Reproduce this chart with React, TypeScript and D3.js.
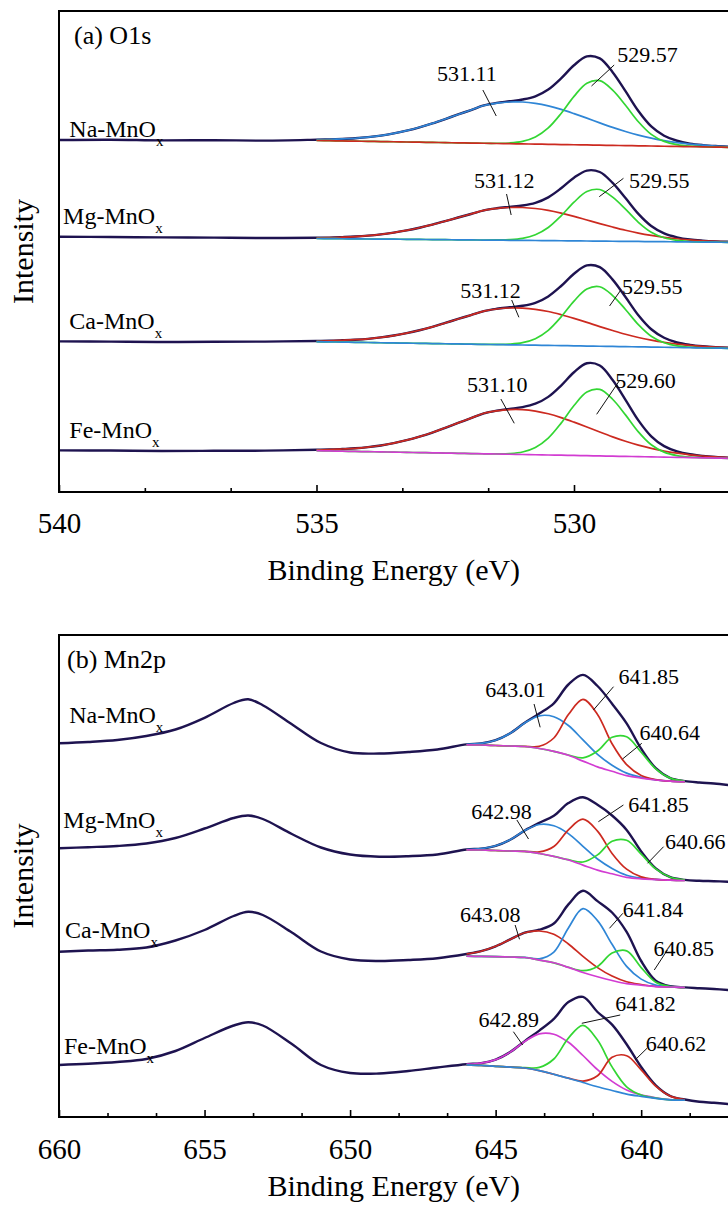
import React, { useEffect, useRef } from "react";
import * as d3 from "d3";

const FONT = "'Liberation Serif', 'Times New Roman', serif";
const RAW = "#1e1350";
const BLUE = "#2f86d6";
const RED = "#cc2a20";
const GREEN = "#33d633";
const MAGENTA = "#d23cd2";

const sampleNames = ["Na-MnO", "Mg-MnO", "Ca-MnO", "Fe-MnO"];

// ---------- (a) O1s ----------
const o1sTicks = [540, 535, 530];
const o1sLeftBE = [540, 539, 538, 537, 536];
const o1sFitBE = [535, 534.75, 534.5, 534.25, 534, 533.75, 533.5, 533.25, 533, 532.75, 532.5, 532.25, 532, 531.75, 531.5, 531.25, 531, 530.75, 530.5, 530.25, 530, 529.75, 529.5, 529.25, 529, 528.75, 528.5, 528.25, 528, 527.75, 527.5, 527.25, 527];
const o1sBaseBE = [535, 527];

const naO1sLeft = [352, 352.3, 351.6, 351.8, 351.4];
const naO1sBase = [351.5, 344.7];
const naO1sBroad = [0.8, 1.3, 2.0, 2.9, 4.2, 6.0, 8.4, 11.4, 14.9, 19.0, 23.6, 28.4, 33.0, 37.8, 40.4, 41.7, 41.9, 40.7, 38.4, 35.1, 31.1, 26.8, 22.3, 18.0, 14.1, 10.7, 7.9, 5.6, 3.9, 2.6, 1.7, 1.1, 0.7];
const naO1sLattice = [0, 0, 0, 0, 0, 0, 0, 0, 0, 0, 0, 0, 0, 0, 0.2, 0.7, 2.5, 7.1, 16.4, 31.1, 48.4, 61.8, 64.5, 55.2, 40.3, 24.1, 11.7, 4.9, 1.8, 0.5, 0.1, 0, 0];

const mgO1sLeft = [255.2, 255.0, 254.6, 254.4, 254.0];
const mgO1sBase = [253.5, 249.7];
const mgO1sBroad = [0.7, 1.0, 1.6, 2.3, 3.3, 4.7, 6.6, 8.9, 11.7, 14.9, 18.5, 22.3, 25.9, 29.7, 31.7, 32.8, 32.9, 32.0, 30.2, 27.6, 24.5, 21.0, 17.5, 14.2, 11.1, 8.4, 6.2, 4.4, 3.1, 2.0, 1.3, 0.8, 0.5];
const mgO1sLattice = [0, 0, 0, 0, 0, 0, 0, 0, 0, 0, 0, 0, 0, 0, 0.2, 0.6, 2.0, 5.7, 13.1, 24.9, 38.7, 49.4, 51.6, 44.1, 32.2, 19.2, 9.4, 3.9, 1.4, 0.4, 0.1, 0, 0];

const caO1sLeft = [150.6, 150.4, 150.0, 150.2, 150.4];
const caO1sBase = [150.3, 143.7];
const caO1sBroad = [0.7, 1.1, 1.8, 2.6, 3.7, 5.3, 7.4, 10.0, 13.1, 16.7, 20.8, 25.0, 29.1, 33.3, 35.6, 36.8, 36.9, 35.9, 33.9, 30.9, 27.4, 23.6, 19.6, 15.9, 12.4, 9.4, 7.0, 5.0, 3.4, 2.3, 1.5, 0.9, 0.6];
const caO1sLattice = [0, 0, 0, 0, 0, 0, 0, 0, 0, 0, 0, 0, 0, 0, 0.2, 0.7, 2.3, 6.5, 15.1, 28.7, 44.7, 57.0, 59.5, 50.9, 37.2, 22.2, 10.8, 4.5, 1.6, 0.5, 0.1, 0, 0];

const feO1sLeft = [41.6, 41.5, 41.0, 41.2, 41.4];
const feO1sBase = [41.3, 33.7];
const feO1sBroad = [0.9, 1.4, 2.2, 3.1, 4.5, 6.4, 9.0, 12.2, 16.0, 20.3, 25.3, 30.4, 35.4, 40.5, 43.2, 44.7, 44.9, 43.7, 41.2, 37.6, 33.3, 28.7, 23.9, 19.3, 15.1, 11.5, 8.5, 6.0, 4.2, 2.8, 1.8, 1.1, 0.7];
const feO1sLattice = [0, 0, 0, 0, 0, 0, 0, 0, 0, 0, 0, 0, 0, 0, 0.2, 0.7, 2.5, 7.3, 16.9, 32.1, 49.9, 63.7, 66.5, 56.9, 41.5, 24.8, 12.1, 5.0, 1.8, 0.5, 0.1, 0, 0];

const o1sPeakLabels = [["531.11", "529.57"], ["531.12", "529.55"], ["531.12", "529.55"], ["531.10", "529.60"]];

// ---------- (b) Mn2p ----------
const mn2pTicks = [660, 655, 650, 645, 640];
const mn2pLeftBE = [660, 659, 658, 657, 656, 655, 654, 653.5, 653, 652, 651, 650, 649, 648, 647];
const mn2pFitBE = [646, 645.5, 645, 644.5, 644, 643.5, 643, 642.5, 642, 641.5, 641, 640.5, 640, 639.5, 639, 638.5];
const mn2pTailBE = [638, 637.5, 637];

const naMn2pLeft = [373.7, 375, 377, 381, 387.5, 399.2, 414, 417.7, 411.8, 392.8, 374, 364.5, 363.5, 365, 367.5];
const naMn2pBase = [372.2, 372, 371.5, 371, 370.5, 368.5, 365.6, 361.7, 355.9, 350.1, 345.7, 341.4, 338.9, 337.0, 335.8, 335.3];
const naMn2pHigh = [0.4, 1.6, 5.3, 12.7, 23.5, 32.7, 34.7, 29.8, 21.2, 12.5, 6.1, 2.5, 0.8, 0.2, 0, 0];
const naMn2pMid = [0, 0, 0, 0, 0.2, 2.2, 13.4, 40.7, 61.8, 52.5, 27.5, 11.0, 2.7, 0.4, 0, 0];
const naMn2pLow = [0, 0, 0, 0, 0, 0, 0, 0.3, 3.2, 15.9, 34.0, 38.8, 25.9, 11.2, 3.1, 0.6];
const naMn2pTail = [334.5, 333.5, 332];

const mgMn2pLeft = [268.7, 269.8, 271, 273.5, 279, 288.5, 299, 301.5, 298, 283, 269.5, 262.5, 260.3, 260.8, 262.5];
const mgMn2pBase = [267.2, 267, 266.5, 266.0, 265.6, 263.5, 260.6, 257.0, 251.9, 246.9, 243.2, 239.6, 238.1, 237.4, 236.8, 236.5];
const mgMn2pHigh = [0.3, 1.4, 4.7, 11.3, 20.8, 29.0, 30.7, 26.4, 18.8, 11.1, 5.4, 2.2, 0.7, 0.2, 0, 0];
const mgMn2pMid = [0, 0, 0, 0, 0.1, 1.6, 9.9, 30.2, 45.9, 39.0, 20.4, 8.2, 2.0, 0.3, 0, 0];
const mgMn2pLow = [0, 0, 0, 0, 0, 0, 0, 0.3, 3.1, 15.2, 32.5, 37.1, 24.8, 10.7, 3.0, 0.6];
const mgMn2pTail = [236.2, 235.8, 235.3];

const caMn2pLeft = [165.3, 166.5, 167.3, 169.5, 176.5, 187, 201, 205.2, 202, 184.5, 165.5, 157.5, 156, 157, 158.8];
const caMn2pBase = [160.9, 160.6, 160.3, 160.0, 159.5, 156.9, 154.2, 149.6, 144.5, 140.2, 136.5, 133.4, 131.9, 130.4, 130.0, 129.6];
const caMn2pHigh = [2.1, 5.2, 10.4, 17.6, 24.7, 29.1, 28.6, 23.4, 16.1, 9.2, 4.4, 1.8, 0.6, 0.2, 0, 0];
const caMn2pMid = [0, 0, 0, 0, 0.1, 1.3, 10.7, 39.5, 63.8, 56.2, 36.2, 17.2, 6.0, 1.5, 0.3, 0];
const caMn2pLow = [0, 0, 0, 0, 0, 0, 0, 0.1, 1.8, 10.3, 27.4, 32.7, 17.5, 4.3, 0.5, 0];
const caMn2pTail = [128.8, 128, 127];

const feMn2pLeft = [52, 53.2, 55, 58, 66, 79, 91.5, 94.7, 91.5, 73, 52, 44, 43.5, 46, 49.5];
const feMn2pBase = [52.2, 51.6, 50.7, 49.9, 49.0, 46.4, 42.7, 38.8, 34.5, 30.2, 26.5, 22.9, 20.6, 18.7, 17.2, 16.8];
const feMn2pHigh = [0.6, 2.3, 6.7, 15.0, 26.5, 36.8, 40.1, 35.9, 27.0, 17.1, 9.1, 4.1, 1.5, 0.5, 0.1, 0];
const feMn2pMid = [0, 0, 0, 0, 0.4, 3.2, 15.3, 40.1, 57.2, 46.7, 23.6, 7.3, 1.4, 0.2, 0, 0];
const feMn2pLow = [0, 0, 0, 0, 0, 0, 0, 0.1, 1.4, 11.0, 33.2, 38.4, 26.5, 12.2, 3.7, 0.7];
const feMn2pTail = [15.3, 14.2, 13];

const mn2pPeakLabels = [
  ["643.01", "641.85", "640.64"],
  ["642.98", "641.85", "640.66"],
  ["643.08", "641.84", "640.85"],
  ["642.89", "641.82", "640.62"],
];

// ---------- layout ----------
const LEFT = 59;
const RIGHT = 728.5;

type Pt = [number, number];
type Note = { at: Pt; lead: [Pt, Pt] };
type Spectrum = {
  left: number[];
  base: number[];
  comps: { values: number[]; color: string }[];
  baseColor: string;
  tail?: number[];
  nameAt: Pt;
  labels: string[];
  notes: Note[];
};

const o1sBase = (ends: number[]) => o1sFitBE.map(d3.scaleLinear().domain(o1sBaseBE).range(ends));

const o1sNotes: Note[][] = [
  [{ at: [532.66, 411], lead: [[531.77, 402], [531.51, 376]] }, { at: [529.16, 430.3], lead: [[529.22, 427], [529.66, 406]] }],
  [{ at: [531.94, 303.7], lead: [[531.31, 298], [531.22, 277]] }, { at: [528.93, 303.7], lead: [[529.04, 313.7], [529.51, 295.3]] }],
  [{ at: [532.21, 193.7], lead: [[531.21, 192], [531.07, 174.7]] }, { at: [529.07, 197.7], lead: [[529.09, 202], [529.31, 186]] }],
  [{ at: [532.08, 100.3], lead: [[531.42, 93], [531.16, 68.7]] }, { at: [529.2, 103.7], lead: [[529.11, 112], [529.56, 77.7]] }],
];
const o1sNameAt: Pt[] = [[539.8, 355], [539.92, 268], [539.8, 162.7], [539.8, 53.7]];

const mn2pNotes: Note[][] = [
  [
    { at: [645.36, 420.3], lead: [[643.68, 413], [643.47, 389.7]] },
    { at: [640.78, 432.7], lead: [[640.95, 430.3], [641.64, 407]] },
    { at: [640.06, 377], lead: [[639.98, 373.7], [640.64, 358]] },
  ],
  [
    { at: [645.84, 297.7], lead: [[644.27, 297], [643.87, 278]] },
    { at: [640.44, 305.3], lead: [[640.61, 312], [641.47, 295.3]] },
    { at: [639.18, 268], lead: [[639.23, 270.3], [639.78, 253.7]] },
  ],
  [
    { at: [646.22, 194.7], lead: [[644.33, 192], [644.18, 177.7]] },
    { at: [640.63, 200.3], lead: [[640.63, 203.7], [641.09, 188.7]] },
    { at: [639.58, 161], lead: [[639.1, 167], [639.55, 147]] },
  ],
  [
    { at: [645.59, 90.3], lead: [[644.39, 85.3], [644.07, 72]] },
    { at: [640.89, 106], lead: [[640.72, 102], [642.04, 93.7]] },
    { at: [639.84, 66], lead: [[639.8, 68.7], [640.21, 57]] },
  ],
];
const mn2pNameAt: Pt[] = [[659.65, 393.7], [659.85, 288.7], [659.79, 178.7], [659.83, 63]];

const o1sSpectra: Spectrum[] = [
  { left: naO1sLeft, base: o1sBase(naO1sBase), comps: [{ values: naO1sBroad, color: BLUE }, { values: naO1sLattice, color: GREEN }], baseColor: RED, nameAt: o1sNameAt[0], labels: o1sPeakLabels[0], notes: o1sNotes[0] },
  { left: mgO1sLeft, base: o1sBase(mgO1sBase), comps: [{ values: mgO1sBroad, color: RED }, { values: mgO1sLattice, color: GREEN }], baseColor: BLUE, nameAt: o1sNameAt[1], labels: o1sPeakLabels[1], notes: o1sNotes[1] },
  { left: caO1sLeft, base: o1sBase(caO1sBase), comps: [{ values: caO1sBroad, color: RED }, { values: caO1sLattice, color: GREEN }], baseColor: BLUE, nameAt: o1sNameAt[2], labels: o1sPeakLabels[2], notes: o1sNotes[2] },
  { left: feO1sLeft, base: o1sBase(feO1sBase), comps: [{ values: feO1sBroad, color: RED }, { values: feO1sLattice, color: GREEN }], baseColor: MAGENTA, nameAt: o1sNameAt[3], labels: o1sPeakLabels[3], notes: o1sNotes[3] },
];

const mn2pSpectra: Spectrum[] = [
  { left: naMn2pLeft, base: naMn2pBase, tail: naMn2pTail, comps: [{ values: naMn2pHigh, color: BLUE }, { values: naMn2pMid, color: RED }, { values: naMn2pLow, color: GREEN }], baseColor: MAGENTA, nameAt: mn2pNameAt[0], labels: mn2pPeakLabels[0], notes: mn2pNotes[0] },
  { left: mgMn2pLeft, base: mgMn2pBase, tail: mgMn2pTail, comps: [{ values: mgMn2pHigh, color: BLUE }, { values: mgMn2pMid, color: RED }, { values: mgMn2pLow, color: GREEN }], baseColor: MAGENTA, nameAt: mn2pNameAt[1], labels: mn2pPeakLabels[1], notes: mn2pNotes[1] },
  { left: caMn2pLeft, base: caMn2pBase, tail: caMn2pTail, comps: [{ values: caMn2pHigh, color: RED }, { values: caMn2pMid, color: BLUE }, { values: caMn2pLow, color: GREEN }], baseColor: MAGENTA, nameAt: mn2pNameAt[2], labels: mn2pPeakLabels[2], notes: mn2pNotes[2] },
  { left: feMn2pLeft, base: feMn2pBase, tail: feMn2pTail, comps: [{ values: feMn2pHigh, color: MAGENTA }, { values: feMn2pMid, color: GREEN }, { values: feMn2pLow, color: RED }], baseColor: BLUE, nameAt: mn2pNameAt[3], labels: mn2pPeakLabels[3], notes: mn2pNotes[3] },
];

const panels = [
  {
    title: "(a) O1s", titleDx: 15, domain: [540, 527], ticks: o1sTicks, top: 11, bottom: 492, yMax: 481,
    leftBE: o1sLeftBE, fitBE: o1sFitBE, tailBE: [] as number[], spectra: o1sSpectra, tickPad: 20.5, xTitleY: 580,
  },
  {
    title: "(b) Mn2p", titleDx: 8, domain: [660, 637], ticks: mn2pTicks, top: 635, bottom: 1117, yMax: 482,
    leftBE: mn2pLeftBE, fitBE: mn2pFitBE, tailBE: mn2pTailBE, spectra: mn2pSpectra, tickPad: 21.5, xTitleY: 1196,
  },
];

function drawPanel(svg: any, p: (typeof panels)[number]) {
  const x = d3.scaleLinear().domain(p.domain).range([LEFT, RIGHT]);
  const y = d3.scaleLinear().domain([0, p.yMax]).range([p.bottom, p.top]);
  const line = d3.line<Pt>()
    .x(d => x(d[0]))
    .y(d => y(d[1]))
    .curve(d3.curveCatmullRom.alpha(0.5));

  const g = svg.append("g");

  p.spectra.forEach(s => {
    const env: Pt[] = p.fitBE.map((be, i) => [be, s.base[i] + d3.sum(s.comps, c => c.values[i])]);
    const raw: Pt[] = [
      ...p.leftBE.map((be, i) => [be, s.left[i]] as Pt),
      ...env,
      ...p.tailBE.map((be, i) => [be, s.tail![i]] as Pt),
    ];
    g.append("path").attr("d", line(raw)).attr("fill", "none")
      .attr("stroke", RAW).attr("stroke-width", 2.4).attr("stroke-linejoin", "round");

    s.comps.forEach(c => {
      g.append("path")
        .attr("d", line(p.fitBE.map((be, i) => [be, s.base[i] + c.values[i]] as Pt)))
        .attr("fill", "none").attr("stroke", c.color).attr("stroke-width", 1.7);
    });
    g.append("path")
      .attr("d", line(p.fitBE.map((be, i) => [be, s.base[i]] as Pt)))
      .attr("fill", "none").attr("stroke", s.baseColor).attr("stroke-width", 1.7);

    // sample name
    const t = g.append("text")
      .attr("x", x(s.nameAt[0])).attr("y", y(s.nameAt[1]))
      .attr("font-family", FONT).attr("font-size", 24).attr("fill", "#000")
      .text(sampleNames[p.spectra.indexOf(s)]);
    t.append("tspan").attr("font-size", 15).attr("dy", 9).text("x");

    // peak positions with leader lines
    s.notes.forEach((n, i) => {
      g.append("line")
        .attr("x1", x(n.lead[0][0])).attr("y1", y(n.lead[0][1]))
        .attr("x2", x(n.lead[1][0])).attr("y2", y(n.lead[1][1]))
        .attr("stroke", "#111").attr("stroke-width", 1);
      g.append("text")
        .attr("x", x(n.at[0])).attr("y", y(n.at[1]))
        .attr("font-family", FONT).attr("font-size", 22).attr("fill", "#000")
        .text(s.labels[i]);
    });
  });

  // frame (right side runs off the picture)
  g.append("rect")
    .attr("x", LEFT).attr("y", p.top)
    .attr("width", 720).attr("height", p.bottom - p.top)
    .attr("fill", "none").attr("stroke", "#000").attr("stroke-width", 2);

  // ticks
  const step = (p.ticks[0] - p.ticks[1]) / 3;
  const minor = d3.range(p.domain[0], p.domain[1] - 0.01, -step).filter((_, i) => i % 3 !== 0);

  const ax = g.append("g").attr("transform", `translate(0,${p.bottom})`)
    .call(d3.axisBottom(x).tickValues(p.ticks).tickSize(-7).tickSizeOuter(0)
      .tickPadding(p.tickPad).tickFormat(d3.format("d")));
  ax.select(".domain").remove();
  ax.selectAll("line").attr("stroke-width", 1.6);
  ax.selectAll("text").attr("font-family", FONT).attr("font-size", 29).attr("fill", "#000");

  const mx = g.append("g").attr("transform", `translate(0,${p.bottom})`)
    .call(d3.axisBottom(x).tickValues(minor).tickSize(-4).tickSizeOuter(0).tickFormat(() => ""));
  mx.select(".domain").remove();
  mx.selectAll("line").attr("stroke-width", 1.6);

  // titles
  g.append("text")
    .attr("x", LEFT + p.titleDx).attr("y", p.top + 33)
    .attr("font-family", FONT).attr("font-size", 26).attr("fill", "#000")
    .text(p.title);

  g.append("text")
    .attr("x", (LEFT + RIGHT) / 2).attr("y", p.xTitleY)
    .attr("text-anchor", "middle")
    .attr("font-family", FONT).attr("font-size", 30).attr("fill", "#000")
    .text("Binding Energy (eV)");

  const cy = (p.top + p.bottom) / 2;
  g.append("text")
    .attr("transform", `translate(33,${cy}) rotate(-90)`)
    .attr("text-anchor", "middle")
    .attr("font-family", FONT).attr("font-size", 30).attr("fill", "#000")
    .text("Intensity");
}

export default function App() {
  const ref = useRef<SVGSVGElement>(null);

  useEffect(() => {
    const svg = d3.select(ref.current);
    svg.selectAll("*").remove();
    panels.forEach(p => drawPanel(svg, p));
  }, []);

  return (
    <svg
      ref={ref}
      width={728}
      height={1211}
      style={{ position: "absolute", left: 0, top: 0, background: "#fff" }}
    />
  );
}
